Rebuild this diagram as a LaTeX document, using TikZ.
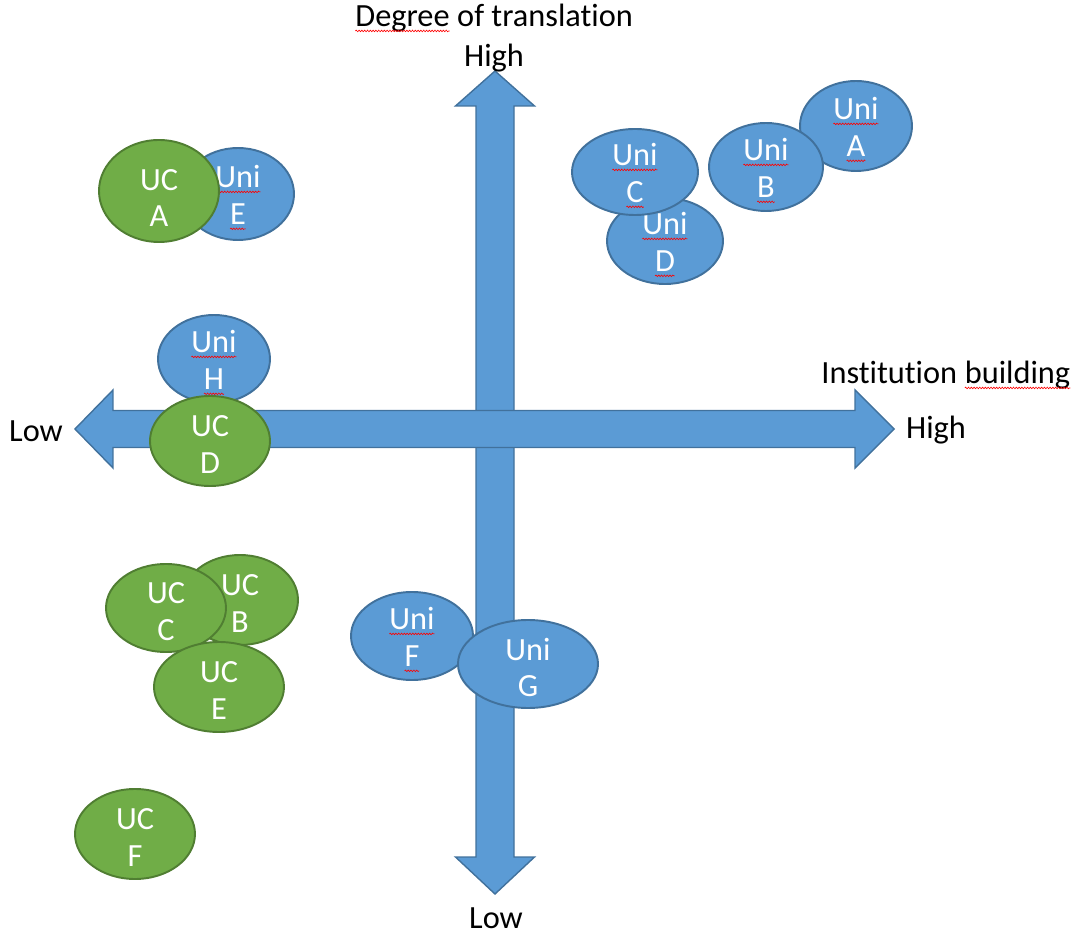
\documentclass[tikz,border=0pt]{standalone}
\usepackage{fontspec}
\setmainfont{Carlito}[Ligatures={NoCommon,NoContextual,NoRequired},Contextuals=NoAlternate]
\usetikzlibrary{shapes.geometric,decorations.pathmorphing}

\definecolor{unifill}{HTML}{5B9BD5}
\definecolor{uniline}{HTML}{41719C}
\definecolor{ucfill}{HTML}{70AD47}
\definecolor{ucline}{HTML}{507E32}

% red spell-check wave under a word
\newcommand\spell[1]{\tikz[baseline=(w.base)]{\node[inner sep=0pt,outer sep=0pt] (w) {#1};
  \draw[red,line width=0.35pt,decorate,decoration={snake,amplitude=0.45pt,segment length=1.6pt}]
    ([yshift=-2.6pt]w.base west) -- ([yshift=-2.6pt]w.base east);}}
\newcommand\lblfont{\fontsize{18.4}{21}\selectfont}

\begin{document}
\begin{tikzpicture}[
  axis/.style={draw=uniline,fill=unifill,line width=0.8pt,line join=miter},
  blob/.style={ellipse,line width=1.1pt,inner sep=0pt},
  uni/.style={blob,draw=uniline,fill=unifill},
  uc/.style={blob,draw=ucline,fill=ucfill},
  intext/.style={text=white,align=center,font=\lblfont,inner sep=0pt,yshift=-2pt},
  axlabel/.style={font=\lblfont,inner sep=0pt}
]
  \useasboundingbox (-9.9,8.58) rectangle (11.64,-10.16);

  % the two axes
  \draw[axis] (-0.38,6.46) -- (-0.79,6.46) -- (0,7.16) -- (0.79,6.46) -- (0.38,6.46)
    -- (0.38,-8.56) -- (0.79,-8.56) -- (0,-9.30) -- (-0.79,-8.56) -- (-0.38,-8.56) -- cycle;
  \draw[axis] (-7.64,0.37) -- (-7.64,0.78) -- (-8.4,0) -- (-7.64,-0.78) -- (-7.64,-0.37)
    -- (7.2,-0.37) -- (7.2,-0.78) -- (7.98,0) -- (7.2,0.78) -- (7.2,0.37) -- cycle;

  \node[axlabel] (ytitle) at (-0.02,8.22) {\spell{Degree} of translation};
  \node[axlabel] (yhigh)  at (-0.02,7.42) {High};
  \node[axlabel] (ylow)   at ( 0.02,-9.78) {Low};
  \node[axlabel] (xlow)   at (-9.18,-0.04) {Low};
  \node[axlabel] (xhigh)  at ( 8.82,-0.02) {High};
  \node[axlabel] (xtitle) at ( 9.02,1.08) {Institution \spell{building}};

  % universities and colleges
  \node[uni,minimum width=2.24cm,minimum height=1.84cm,label={[intext]center:{\spell{Uni}\\\spell{E}}}] (uniE) at (-5.14,4.70) {};
  \node[uc,minimum width=2.40cm,minimum height=2.04cm,label={[intext,yshift=-2pt]center:{UC\\A}}] (ucA) at (-6.72,4.76) {};
  \node[uni,minimum width=2.24cm,minimum height=1.76cm,label={[intext]center:{\spell{Uni}\\\spell{H}}}] (uniH) at (-5.62,1.40) {};
  \node[uc,minimum width=2.40cm,minimum height=1.80cm,label={[intext]center:{UC\\D}}] (ucD) at (-5.70,-0.24) {};

  \node[uni,minimum width=2.32cm,minimum height=1.72cm,label={[intext]center:{\spell{Uni}\\\spell{D}}}] (uniD) at (3.40,3.76) {};
  \node[uni,minimum width=2.52cm,minimum height=1.72cm,label={[intext]center:{\spell{Uni}\\\spell{C}}}] (uniC) at (2.80,5.14) {};
  \node[uni,minimum width=2.24cm,minimum height=1.80cm,label={[intext]center:{\spell{Uni}\\\spell{A}}}] (uniA) at (7.22,6.06) {};
  \node[uni,minimum width=2.28cm,minimum height=1.76cm,label={[intext]center:{\spell{Uni}\\\spell{B}}}] (uniB) at (5.42,5.24) {};

  \node[uc,minimum width=2.32cm,minimum height=1.80cm,label={[intext]center:{UC\\B}}] (ucB) at (-5.10,-3.42) {};
  \node[uc,minimum width=2.40cm,minimum height=1.76cm,label={[intext]center:{UC\\C}}] (ucC) at (-6.58,-3.58) {};
  \node[uc,minimum width=2.60cm,minimum height=1.80cm,label={[intext]center:{UC\\E}}] (ucE) at (-5.52,-5.16) {};

  \node[uni,minimum width=2.44cm,minimum height=1.76cm,label={[intext]center:{\spell{Uni}\\\spell{F}}}] (uniF) at (-1.66,-4.14) {};
  \node[uni,minimum width=2.80cm,minimum height=1.76cm,label={[intext]center:{Uni\\G}}] (uniG) at (0.66,-4.70) {};

  \node[uc,minimum width=2.40cm,minimum height=1.80cm,label={[intext]center:{UC\\F}}] (ucF) at (-7.20,-8.10) {};
\end{tikzpicture}
\end{document}
